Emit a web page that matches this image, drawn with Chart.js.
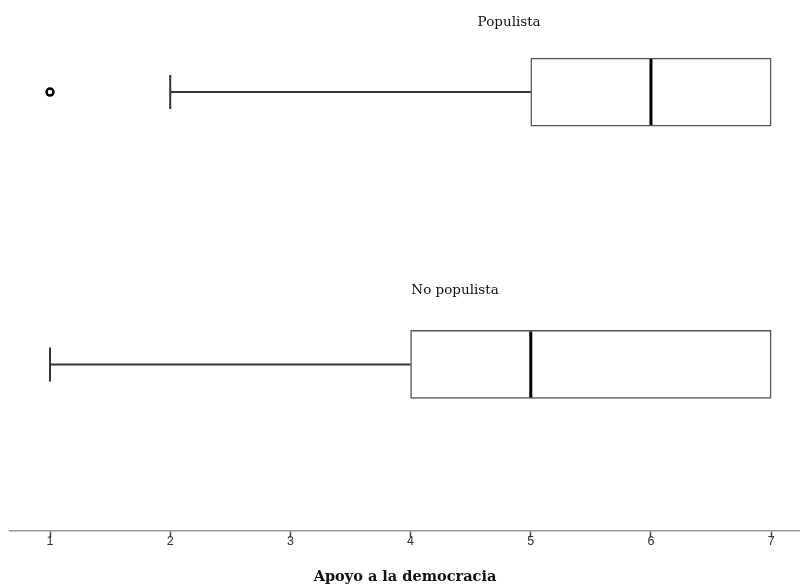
<!DOCTYPE html>
<html>
<head>
    <title>Apoyo a la democracia</title>
    <script src="https://cdn.jsdelivr.net/npm/chart.js@4.4.5/dist/chart.umd.min.js"></script>
    <style>
        body { margin: 0; background: #fff; }
    </style>
</head>
<body>
    <canvas id="boxChart" width="800" height="584"></canvas>

    <script>
        // Data
        const groups = ['Populista', 'No populista'];
        const whiskerLow = [2, 1];
        const q1 = [5, 4];
        const medians = [6, 5];
        const q3 = [7, 7];
        const whiskerHigh = [7, 7];
        const outliers = [[1], []];
        const tickValues = [1, 2, 3, 4, 5, 6, 7];

        // group i sits at y = i + 1
        const rowOf = i => i + 1;

        const datasets = [];

        // Boxes: floating horizontal bars q1..q3
        datasets.push({
            type: 'bar',
            indexAxis: 'y',
            data: groups.map((g, i) => ({ x: [q1[i], q3[i]], y: rowOf(i) })),
            backgroundColor: '#ffffff',
            borderColor: '#555555',
            borderWidth: 1.5,
            borderSkipped: false,
            barThickness: 68,
            order: 2
        });

        // Whiskers and caps
        groups.forEach((g, i) => {
            const segs = [[whiskerLow[i], q1[i]], [q3[i], whiskerHigh[i]]];
            segs.forEach(([a, b], k) => {
                if (a === b) return;
                datasets.push({
                    type: 'line',
                    data: [{ x: a, y: rowOf(i) }, { x: b, y: rowOf(i) }],
                    borderColor: '#333333',
                    borderWidth: 2,
                    pointRadius: 0,
                    order: 3
                });
                datasets.push({
                    type: 'scatter',
                    data: [{ x: k === 0 ? a : b, y: rowOf(i) }],
                    pointStyle: 'line',
                    rotation: 90,
                    pointRadius: 17,
                    borderColor: '#333333',
                    borderWidth: 2,
                    order: 1
                });
            });
        });

        // Medians
        datasets.push({
            type: 'scatter',
            data: groups.map((g, i) => ({ x: medians[i], y: rowOf(i) })),
            pointStyle: 'line',
            rotation: 90,
            pointRadius: 33,
            borderColor: '#000000',
            borderWidth: 3,
            order: 0
        });

        // Outliers
        const outPts = [];
        outliers.forEach((list, i) => list.forEach(v => outPts.push({ x: v, y: rowOf(i) })));
        datasets.push({
            type: 'scatter',
            data: outPts,
            pointStyle: 'circle',
            pointRadius: 3.5,
            backgroundColor: '#ffffff',
            borderColor: '#000000',
            borderWidth: 2.5,
            order: 0
        });

        // Group names above each box
        const groupLabels = {
            id: 'groupLabels',
            afterDatasetsDraw(chart) {
                const { ctx, scales } = chart;
                const xAt = [4.82, 4.37];
                const lift = [70, 74];
                ctx.save();
                ctx.font = '13.5px "DejaVu Serif"';
                ctx.fillStyle = '#111';
                ctx.textAlign = 'center';
                ctx.textBaseline = 'middle';
                groups.forEach((g, i) => {
                    const x = scales.x.getPixelForValue(xAt[i]);
                    const y = scales.y.getPixelForValue(rowOf(i)) - lift[i];
                    ctx.fillText(g, x, y);
                });
                ctx.restore();
            }
        };

        new Chart(document.getElementById('boxChart'), {
            type: 'scatter',
            data: { datasets },
            plugins: [groupLabels],
            options: {
                responsive: false,
                animation: false,
                layout: {
                    autoPadding: false,
                    padding: { left: 10, right: 0, top: 0, bottom: 0 }
                },
                plugins: {
                    legend: { display: false },
                    tooltip: { enabled: false }
                },
                scales: {
                    x: {
                        type: 'linear',
                        min: 0.667,
                        max: 7.24,
                        afterBuildTicks: axis => {
                            axis.ticks = tickValues.map(v => ({ value: v }));
                        },
                        border: { color: '#999999', width: 1.5 },
                        grid: {
                            drawOnChartArea: false,
                            drawTicks: true,
                            tickLength: 7,
                            tickWidth: 1.5,
                            tickColor: '#444444'
                        },
                        ticks: {
                            padding: -4,
                            color: '#333',
                            font: { family: '"Liberation Sans"', size: 12.5 }
                        },
                        title: {
                            display: true,
                            text: 'Apoyo a la democracia',
                            color: '#111',
                            font: { family: '"DejaVu Serif"', size: 14.5, weight: 'bold' },
                            padding: { top: 24, bottom: -2 }
                        }
                    },
                    y: {
                        type: 'linear',
                        display: false,
                        reverse: true,
                        offset: false,
                        min: 0.66176,
                        max: 2.6103
                    }
                }
            }
        });
    </script>
</body>
</html>
